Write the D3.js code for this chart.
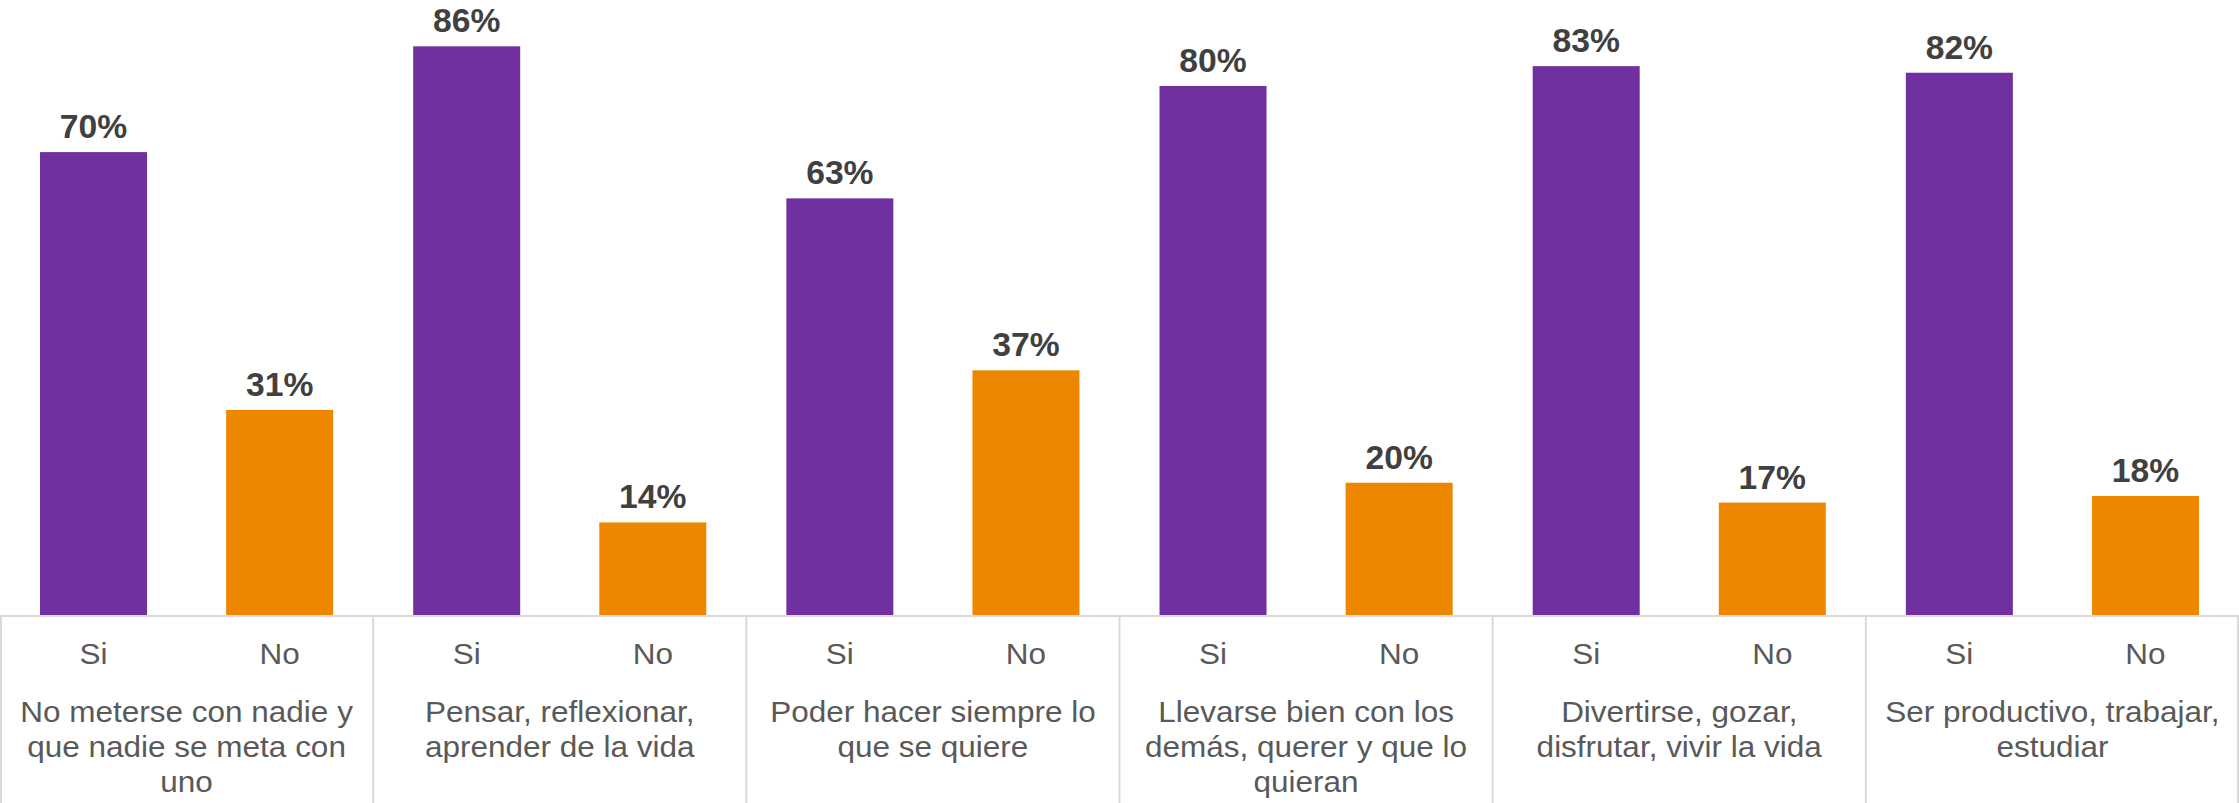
<!DOCTYPE html>
<html>
<head>
<meta charset="utf-8">
<script src="https://cdn.jsdelivr.net/npm/d3@7"></script>
<style>
  html, body { margin: 0; padding: 0; background: #ffffff; }
  svg { display: block; }
  text { font-family: "Liberation Sans", Arial, sans-serif; }
</style>
</head>
<body>
<svg id="chart" width="2239" height="803"></svg>
<script>
// ---- Data ----
const categories = [
  "No meterse con nadie y que nadie se meta con uno",
  "Pensar, reflexionar, aprender de la vida",
  "Poder hacer siempre lo que se quiere",
  "Llevarse bien con los demás, querer y que lo quieran",
  "Divertirse, gozar, disfrutar, vivir la vida",
  "Ser productivo, trabajar, estudiar"
];
const categoryLines = [
  ["No meterse con nadie y", "que nadie se meta con", "uno"],
  ["Pensar, reflexionar,", "aprender de la vida"],
  ["Poder hacer siempre lo", "que se quiere"],
  ["Llevarse bien con los", "demás, querer y que lo", "quieran"],
  ["Divertirse, gozar,", "disfrutar, vivir la vida"],
  ["Ser productivo, trabajar,", "estudiar"]
];
const answers = ["Si", "No"];
const siValues = [70, 86, 63, 80, 83, 82];
const noValues = [31, 14, 37, 20, 17, 18];
const colors = { Si: "#7030A0", No: "#EE8700" };

// ---- Layout ----
const W = 2239, H = 803;
const baseY = 615;
const stretch = 1.05;
const svg = d3.select("#chart");

const x0 = d3.scaleBand().domain(categories).range([0, W]).padding(0);
const x1 = d3.scaleBand().domain(answers).range([0, x0.bandwidth()])
  .paddingInner(0.425).paddingOuter(0.215);
const y = d3.scaleLinear().domain([0, 93]).range([baseY, 0]);

const rows = [];
categories.forEach((c, i) => {
  rows.push({ cat: c, ans: "Si", v: siValues[i] });
  rows.push({ cat: c, ans: "No", v: noValues[i] });
});

// bars
svg.append("g").selectAll("rect").data(rows).join("rect")
  .attr("x", d => x0(d.cat) + x1(d.ans))
  .attr("y", d => y(d.v))
  .attr("width", x1.bandwidth())
  .attr("height", d => y(0) - y(d.v))
  .attr("fill", d => colors[d.ans]);

// value labels
svg.append("g").selectAll("text").data(rows).join("text")
  .attr("transform", d => `translate(${x0(d.cat) + x1(d.ans) + x1.bandwidth() / 2},${y(d.v) - 14}) scale(1.02,1)`)
  .attr("text-anchor", "middle")
  .attr("font-size", 33)
  .attr("font-weight", "bold")
  .attr("fill", "#404040")
  .text(d => d.v + "%");

// axis grid lines (multi-level category axis)
const grid = svg.append("g").attr("stroke", "#D9D9D9").attr("stroke-width", 2);
grid.append("line").attr("x1", 0).attr("x2", W).attr("y1", baseY + 1).attr("y2", baseY + 1);
const bounds = categories.map(c => x0(c)).concat([W - 1]);
grid.selectAll("line.v").data(bounds).join("line").attr("class", "v")
  .attr("x1", d => Math.max(1, d)).attr("x2", d => Math.max(1, d))
  .attr("y1", baseY).attr("y2", H);

// Si / No labels
svg.append("g").selectAll("text").data(rows).join("text")
  .attr("transform", d => `translate(${x0(d.cat) + x1(d.ans) + x1.bandwidth() / 2},664) scale(${stretch},1)`)
  .attr("text-anchor", "middle")
  .attr("font-size", 30)
  .attr("fill", "#595959")
  .text(d => d.ans);

// category labels
const catG = svg.append("g").selectAll("text").data(categories).join("text")
  .attr("transform", d => `translate(${x0(d) + x0.bandwidth() / 2},721.5) scale(${stretch},1)`)
  .attr("text-anchor", "middle")
  .attr("font-size", 30)
  .attr("fill", "#595959");
catG.each(function(d, i) {
  const t = d3.select(this);
  categoryLines[i].forEach((line, j) => {
    t.append("tspan")
      .attr("x", 0)
      .attr("dy", j === 0 ? 0 : 35.5)
      .text(line);
  });
});
</script>
</body>
</html>
